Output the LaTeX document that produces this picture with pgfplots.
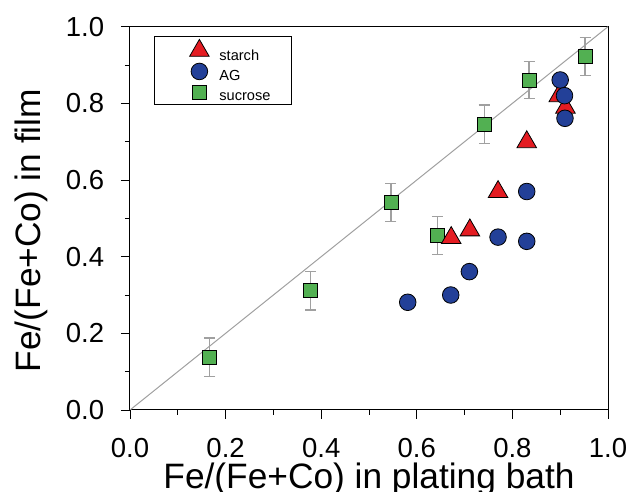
\documentclass[border=0pt]{standalone}
\usepackage{pgfplots}
\pgfplotsset{compat=1.18}
\usepackage{fontspec}
\setmainfont{Liberation Sans}
\definecolor{cred}{RGB}{228,28,34}
\definecolor{cblue}{RGB}{35,64,152}
\definecolor{cgreen}{RGB}{82,176,82}
\definecolor{cgray}{RGB}{160,160,160}
\begin{document}
\begin{tikzpicture}
\path[use as bounding box] (-130pt,-82pt) rectangle (500pt,410pt);
\begin{axis}[
  at={(0pt,0pt)}, anchor=south west,
  scale only axis, width=478pt, height=383.3pt,
  xmin=0, xmax=1, ymin=0, ymax=1,
  xtick={0,0.2,0.4,0.6,0.8,1.0}, ytick={0,0.2,0.4,0.6,0.8,1.0},
  minor x tick num=1, minor y tick num=1,
  xtick pos=bottom, ytick pos=left,
  tick align=outside, major tick length=9pt, minor tick length=5pt,
  tick style={black, line width=0.9pt},
  axis line style={black, line width=1pt},
  /pgf/number format/assume math mode=true,
  xticklabel={\pgfmathprintnumber[fixed,fixed zerofill,precision=1]{\tick}},
  yticklabel={\pgfmathprintnumber[fixed,fixed zerofill,precision=1]{\tick}},
  xticklabel style={font=\fontsize{27.5}{30}\selectfont, anchor=base, inner sep=0pt, yshift=-39pt},
  yticklabel style={font=\fontsize{27.5}{30}\selectfont, anchor=east, inner sep=0pt, xshift=-16.7pt},
  xlabel={Fe/(Fe+Co) in plating bath},
  ylabel={Fe/(Fe+Co) in film},
  xlabel style={font=\fontsize{35.3}{40}\selectfont, at={(axis description cs:0.5,-0.205)}, anchor=base, inner sep=0pt},
  ylabel style={font=\fontsize{35.3}{40}\selectfont, at={(axis description cs:-0.188,0.468)}, anchor=base, inner sep=0pt},
  legend style={at={(axis description cs:0.050,0.976)}, anchor=north west,
    draw=black, line width=1pt, fill=white,
    font=\fontsize{14.6}{16}\selectfont,
    inner xsep=21pt, inner ysep=3pt, row sep=0pt,
    nodes={inner sep=0pt, draw=none}},
  legend cell align=left,
  legend image code/.code={%
    \path[draw=none, fill=none] (0pt,-4.3pt) rectangle (44pt,14.7pt);
    \draw[#1] plot coordinates {(24pt,5.2pt)};},
]
\addlegendimage{only marks, mark=triangle*, mark size=11.3pt, mark options={fill=cred, draw=black, line width=0.8pt}}
\addlegendimage{only marks, mark=*, mark size=8.3pt, mark options={fill=cblue, draw=black, line width=0.8pt}}
\addlegendimage{only marks, mark=square*, mark size=7pt, mark options={fill=cgreen, draw=black, line width=0.8pt}}
\legend{starch, AG, sucrose}

\addplot[cgray, line width=1pt, forget plot] coordinates {(0,0) (1,1)};

% sucrose with error bars
\addplot[forget plot, only marks, mark=square*, mark size=7pt,
  mark options={fill=cgreen, draw=black, line width=0.8pt},
  error bars/.cd, y dir=both, y explicit,
  error bar style={cgray, line width=1.3pt},
  error mark options={rotate=90, mark size=5.5pt, cgray, line width=1.3pt}]
  coordinates {
  (0.167,0.138) +- (0,0.050)
  (0.377,0.311) +- (0,0.050)
  (0.546,0.541) +- (0,0.050)
  (0.643,0.455) +- (0,0.050)
  (0.741,0.746) +- (0,0.050)
  (0.835,0.861) +- (0,0.049)
  (0.952,0.922) +- (0,0.050)
  };

% starch
\addplot[forget plot, only marks, mark=triangle*, mark size=11.3pt,
  mark options={fill=cred, draw=black, line width=0.8pt}]
  coordinates {
  (0.672,0.449) (0.711,0.469) (0.770,0.569) (0.830,0.699) (0.897,0.819) (0.911,0.789)
  };

% AG
\addplot[forget plot, only marks, mark=*, mark size=8.3pt,
  mark options={fill=cblue, draw=black, line width=0.8pt}]
  coordinates {
  (0.581,0.281) (0.671,0.300) (0.710,0.361) (0.770,0.451) (0.830,0.440)
  (0.830,0.570) (0.900,0.861) (0.909,0.820) (0.910,0.761)
  };
\end{axis}
\end{tikzpicture}
\end{document}
